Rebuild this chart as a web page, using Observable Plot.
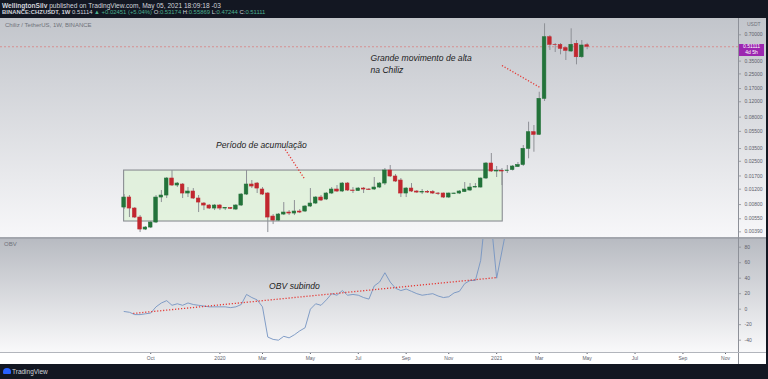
<!DOCTYPE html>
<html><head><meta charset="utf-8">
<script src="https://cdn.jsdelivr.net/npm/d3@7"></script>
<script src="https://cdn.jsdelivr.net/npm/@observablehq/plot@0.6"></script>
<style>
body{margin:0;background:#131722;width:768px;height:379px;overflow:hidden;font-family:"Liberation Sans",Arial,sans-serif;position:relative}
.abs{position:absolute;white-space:nowrap}
#h1{left:2px;top:1.5px;font-size:6.6px;color:#d1d4dc}
#h2{left:2px;top:9px;font-size:5.9px;color:#d1d4dc}
.g{color:#4caf8f}
#up{left:0;top:18px}
#sep{left:0;top:237px;width:766px;height:2px;background:#a3a6ad}
#lo{left:0;top:239px}
#vline{left:738px;top:18px;width:1px;height:346px;background:#8d9098}
#xline{left:0;top:352px;width:766px;height:1px;background:#b2b5bc}
#sym{left:5px;top:22px;font-size:6px;color:#6f727a}
#obvl{left:4px;top:241px;font-size:6px;color:#6f727a}
#usdt{left:747px;top:21px;font-size:5px;color:#6f727a}
#plabel{left:739px;width:25px;height:12px;background:#9c27b0;color:#fff;font-size:5px;line-height:5.6px;text-align:center;padding-top:0.5px;box-sizing:border-box}
#foot{left:0;top:364px;width:768px;height:15px;background:#131722}
#logo{left:12px;top:368px;font-size:6.5px;color:#d1d4dc}
#icon{left:3px;top:368px;width:8px;height:6px;background:#2962ff;border-radius:4px 4px 1px 1px}
</style></head>
<body>
<div id="h1" class="abs"><b>WellingtonSilv</b> published on TradingView.com, May 05, 2021 18:09:18 -03</div>
<div id="h2" class="abs"><b>BINANCE:CHZUSDT, 1W</b> 0.51114 <span class="g">▲ +0.02451 (+5.04%)</span> O:<span class="g">0.53174</span> H:<span class="g">0.55869</span> L:<span class="g">0.47244</span> C:<span class="g">0.51111</span></div>
<div id="up" class="abs"></div>
<div id="sep" class="abs"></div>
<div id="lo" class="abs"></div>
<div id="vline" class="abs"></div>
<div id="xline" class="abs"></div>
<div id="sym" class="abs">Chiliz / TetherUS, 1W, BINANCE</div>
<div id="obvl" class="abs">OBV</div>
<div id="usdt" class="abs">USDT</div>
<div id="plabel" class="abs"></div>
<div id="foot" class="abs"></div>
<div id="icon" class="abs"></div>
<div id="logo" class="abs">TradingView</div>
<script>
// Weekly candles CHZ/USDT starting 2019-09-02
const firstWeek = "2019-09-02";
const opens = [0.007397,0.009628,0.007205,0.005684,0.004143,0.004367,0.004982,0.009628,0.01015,0.01589,
0.01321,0.01356,0.01070,0.01128,0.009377,0.008220,0.007798,0.007205,0.007798,0.007205,
0.0073,0.007018,0.007798,0.01042,0.01356,0.01392,0.01189,0.01070,0.005836,0.005252,
0.006151,0.006484,0.006316,0.006657,0.006657,0.007595,0.008220,0.009628,0.009134,0.01070,
0.01189,0.01128,0.01392,0.01158,0.01143,0.01220,0.01189,0.01189,0.01253,0.01392,
0.01962,0.01675,0.01507,0.01070,0.01220,0.01128,0.01098,0.01113,0.01113,0.01070,
0.01070,0.009628,0.01056,0.01070,0.01113,0.01158,0.01253,0.01253,0.01589,0.02359,
0.01911,0.01936,0.01936,0.01988,0.02151,0.02268,0.03474,0.05382,0.05025,0.1297,
0.6571,0.5380,0.5337,0.4919,0.4509,0.5522,0.3879,0.53174];
const closes = [0.009628,0.007205,0.005684,0.004143,0.004367,0.004982,0.009628,0.01015,0.01589,0.01321,
0.01392,0.01070,0.01128,0.009377,0.008439,0.007798,0.007205,0.007798,0.007205,0.0073,
0.00715,0.007798,0.01042,0.01356,0.01287,0.01220,0.01042,0.005684,0.005252,0.006151,
0.006484,0.006316,0.006657,0.006484,0.007595,0.008220,0.009628,0.008896,0.01070,0.01189,
0.01128,0.01392,0.01158,0.01143,0.01220,0.01189,0.01174,0.01253,0.01392,0.01962,
0.01675,0.01468,0.01070,0.01220,0.01128,0.01098,0.01113,0.01098,0.01070,0.01056,
0.009628,0.01070,0.01070,0.01128,0.01189,0.01253,0.01270,0.01589,0.02359,0.01911,
0.01936,0.01911,0.01962,0.02180,0.02268,0.03474,0.05382,0.05025,0.1297,0.6571,
0.5380,0.5337,0.4841,0.4593,0.5380,0.3879,0.5281,0.51111];
const highs = [0.01042,0.01015,0.007397,0.005991,0.004484,0.005115,0.01015,0.01158,0.01631,0.01962,
0.01430,0.01392,0.01253,0.01220,0.01015,0.008439,0.008006,0.008006,0.008006,0.007397,
0.007397,0.008006,0.01070,0.01962,0.01507,0.01430,0.01253,0.01098,0.006151,0.006316,
0.008439,0.006835,0.008896,0.007018,0.007798,0.01220,0.009885,0.01015,0.01098,0.01253,
0.01321,0.01430,0.01430,0.01253,0.01253,0.01253,0.01220,0.01631,0.01430,0.02068,
0.02238,0.01765,0.01589,0.01253,0.01392,0.01158,0.01189,0.01158,0.01158,0.01098,
0.01084,0.01084,0.01084,0.01158,0.01430,0.01392,0.01392,0.01610,0.02422,0.03070,
0.02180,0.02068,0.02238,0.02238,0.02422,0.03791,0.07005,0.06420,0.1543,0.9353,
0.6872,0.5566,0.5566,0.5049,0.8198,0.6024,0.6024,0.55869];
const lows = [0.007018,0.005684,0.005536,0.003828,0.004035,0.004253,0.004853,0.008439,0.009377,0.01287,
0.01253,0.009377,0.009628,0.009134,0.006484,0.006835,0.007018,0.006835,0.006835,0.006835,
0.007018,0.006835,0.007595,0.01015,0.01220,0.01070,0.01015,0.003828,0.004726,0.005115,
0.005991,0.005991,0.005991,0.006316,0.006484,0.007397,0.008006,0.008665,0.008896,0.01042,
0.01098,0.01098,0.01128,0.01070,0.01128,0.01070,0.01158,0.01158,0.01220,0.01321,
0.01631,0.01430,0.009628,0.009628,0.01098,0.01070,0.01042,0.01070,0.01042,0.01015,
0.009377,0.009377,0.01042,0.01042,0.01098,0.01128,0.01236,0.01236,0.01547,0.01861,
0.01631,0.01321,0.01813,0.01936,0.02123,0.02185,0.02670,0.03177,0.04931,0.1208,
0.4629,0.4390,0.4132,0.3557,0.4390,0.3175,0.3749,0.47244];
const obv = [-3,-4,-7,-7,-6,-5,3,8,11,5,
7,5,8,6,5,4,3,3,3,3,
2,3,6,19,15,12,3,-36,-39,-40,
-35,-37,-33,-28,-24,0,7,5,12,20,
18,24,18,19,18,15,13,30,35,47,
35,27,24,26,23,20,18,19,20,17,
15,16,21,23,33,37,37,63,130,110,
40,75,110,140,160,200,260,250,340,520,
500,510,495,480,500,470,495,490];
const lastClose = 0.51111;

// price axis ticks (right) and OBV ticks
const priceTicks = [0.7,0.35,0.25,0.17,0.12,0.08,0.055,0.035,0.025,0.017,0.012,0.008,0.0055,0.0039];
const obvTicks = [80,60,40,20,0,-20,-40];
// time axis ticks
const tickDates = ["2019-10-07","2020-01-06","2020-03-02","2020-05-04","2020-07-06","2020-09-07","2020-11-02","2021-01-04","2021-03-01","2021-05-03","2021-07-05","2021-09-06","2021-11-01"];
const tickLabels = ["Oct","2020","Mar","May","Jul","Sep","Nov","2021","Mar","May","Jul","Sep","Nov"];

// drawings
const boxDates = ["2019-09-02","2021-01-12"];
const boxPrices = [0.00512,0.0196];
const noteTexts = ["Período de acumulação","Grande movimento de alta\nna Chiliz"];
const noteDates = ["2020-01-01","2020-07-22"];
const notePrices = [0.0389,0.329];
const arrowDates = [["2020-04-01","2020-04-26"],["2021-01-11","2021-03-02"]];
const arrowPrices = [[0.0341,0.0159],[0.3117,0.1746]];
const obvNote = "OBV subindo";
const obvNoteDate = "2020-04-13";
const obvNoteValue = 29.3;
const obvTrendDates = ["2019-09-14","2021-01-05"];
const obvTrendValues = [-5.5,40.9];

const DAY = 864e5;
const D = s => new Date(s + "T00:00:00Z");
const t0 = D(firstWeek).getTime();
const candles = opens.map((o,i) => ({date:new Date(t0 + i*7*DAY), open:o, high:highs[i], low:lows[i], close:closes[i], obv:obv[i]}));
const xDomain = [new Date(Date.UTC(2019,2,23,10)), new Date(Date.UTC(2021,10,18,2))];
const xEnd = xDomain[1], xTick = new Date(+xDomain[1] + 4*DAY);
const half = 2.37*DAY;
const green = "#23733a", red = "#c1272f";
const box = [{x1:D(boxDates[0]), x2:D(boxDates[1]), y1:boxPrices[0], y2:boxPrices[1]}];
const notes = noteTexts.map((t,i)=>({t, x:D(noteDates[i]), y:notePrices[i]}));
const arrows = arrowDates.map((d,i)=>({x1:D(d[0]), x2:D(d[1]), y1:arrowPrices[i][0], y2:arrowPrices[i][1]}));
const labelMap = new Map(tickDates.map((d,i)=>[+D(d), tickLabels[i]]));

const upper = Plot.plot({
  width:766, height:219, marginLeft:0, marginRight:28, marginTop:0, marginBottom:0,
  style:{background:"linear-gradient(#c2c5cb,#f7f7f9)", fontFamily:"Liberation Sans, Arial, sans-serif", fontSize:"5px", color:"#5d606b", overflow:"visible"},
  x:{domain:xDomain, axis:null},
  y:{type:"log", domain:[0.00336,1.0756], axis:null},
  marks:[
    Plot.rect(box, {x1:"x1", x2:"x2", y1:"y1", y2:"y2", fill:"#dff1d8", fillOpacity:0.8, stroke:"#8a8d93", strokeWidth:1.1}),
    Plot.ruleY([lastClose], {stroke:"#e07070", strokeDasharray:"2,2", strokeWidth:0.8, strokeOpacity:0.8}),
    Plot.ruleX(candles, {x:"date", y1:"low", y2:"high", stroke:"#8e9096", strokeWidth:1}),
    Plot.rect(candles, {x1:d=>new Date(+d.date-half), x2:d=>new Date(+d.date+half), y1:"open", y2:"close",
      fill:d=>d.close>=d.open?green:red, stroke:d=>d.close>=d.open?green:red, strokeWidth:0.6}),
    Plot.link(arrows, {x1:"x1", y1:"y1", x2:"x2", y2:"y2", stroke:"#e53935", strokeWidth:1.3, strokeDasharray:"1.2,1.8"}),
    Plot.text(notes, {x:"x", y:"y", text:"t", textAnchor:"start", fontSize:8.6, fontStyle:"italic", fontWeight:500, fill:"#1c1c1c", lineHeight:1.4}),
    // right price axis
    Plot.ruleY(priceTicks, {y:d=>d, x1:()=>xEnd, x2:()=>xTick, stroke:"#8d9098", strokeWidth:0.8}),
    Plot.text(priceTicks, {y:d=>d, frameAnchor:"right", textAnchor:"start", dx:6, text:d=>d.toFixed(5), fontSize:5, fill:"#5d606b"})
  ]
});
document.getElementById("up").appendChild(upper);

const lower = Plot.plot({
  width:766, height:125, marginLeft:0, marginRight:28, marginTop:0, marginBottom:12,
  style:{background:"linear-gradient(#b8bbc2 0px,#f9f9fa 113px,#ffffff 113px,#ffffff 125px)", fontFamily:"Liberation Sans, Arial, sans-serif", fontSize:"5px", color:"#5d606b", overflow:"visible"},
  x:{domain:xDomain, axis:null},
  y:{domain:[-55.9,89.9], axis:null},
  marks:[
    Plot.lineY(candles, {x:"date", y:"obv", stroke:"#7594c2", strokeWidth:0.9, clip:true}),
    Plot.link([{x1:D(obvTrendDates[0]), x2:D(obvTrendDates[1]), y1:obvTrendValues[0], y2:obvTrendValues[1]}], {x1:"x1", y1:"y1", x2:"x2", y2:"y2", stroke:"#e53935", strokeWidth:1.3, strokeDasharray:"1.2,1.8"}),
    Plot.text([obvNote], {x:()=>D(obvNoteDate), y:()=>obvNoteValue, text:d=>d, fontSize:8.6, fontStyle:"italic", fontWeight:500, fill:"#1c1c1c"}),
    Plot.ruleY(obvTicks, {y:d=>d, x1:()=>xEnd, x2:()=>xTick, stroke:"#8d9098", strokeWidth:0.8}),
    Plot.text(obvTicks, {y:d=>d, frameAnchor:"right", textAnchor:"start", dx:6, text:d=>String(d), fontSize:5, fill:"#5d606b"}),
    Plot.axisX(tickDates.map(D), {anchor:"bottom", tickSize:2, tickPadding:1.5, tickFormat:d=>labelMap.get(+d), fontSize:5})
  ]
});
document.getElementById("lo").appendChild(lower);

// last-price label on the price axis
const py = upper.scale("y").apply(lastClose);
const pl = document.getElementById("plabel");
pl.style.top = (18 + py - 2.5) + "px";
pl.innerHTML = lastClose.toFixed(5) + "<br>4d 5h";
</script>
</body></html>
